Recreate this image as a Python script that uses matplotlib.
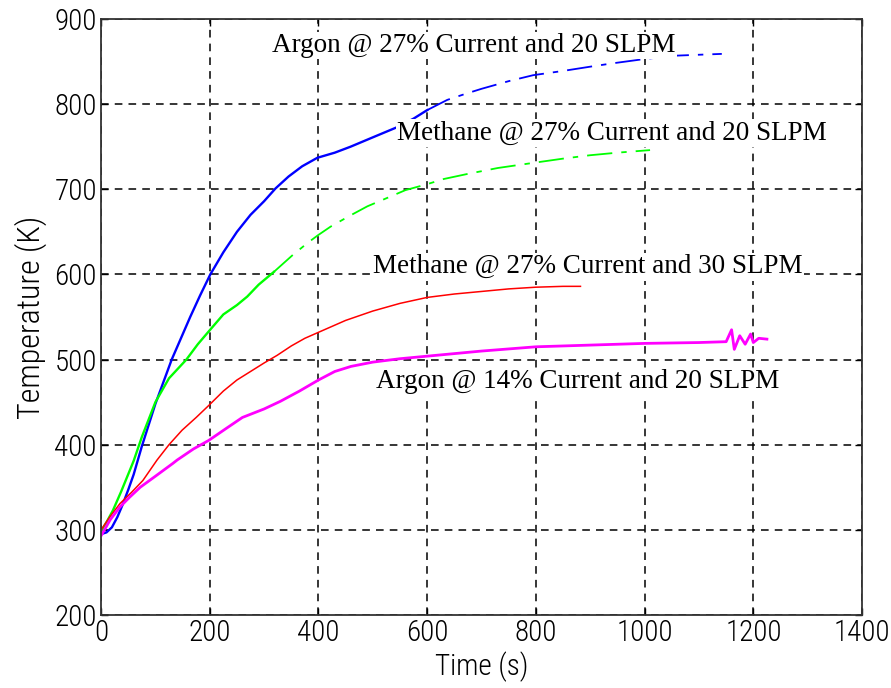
import matplotlib
matplotlib.use("Agg")
import matplotlib.pyplot as plt
from matplotlib import font_manager

OUT_FILE = "out.png"

# readings (time in s, temperature in K)
argon27_t = [0, 10, 20, 30, 40, 50, 60, 75, 90, 100, 115, 130, 147, 164, 182, 201, 225, 250,
             275, 300, 321, 345, 370, 398, 430, 459, 500, 545, 575, 600]
argon27_T = [295, 297, 303, 315, 330, 347, 365, 398, 428, 448, 474, 500, 525, 550, 575, 600, 626, 650,
             670, 686, 701, 715, 727, 737, 743, 750, 761, 773, 783, 793]
argon27_tail_t = [600, 637, 670, 700, 750, 795, 850, 900, 942, 1000, 1060, 1100, 1142]
argon27_tail_T = [793, 805, 812, 818, 827, 834, 839, 844, 848, 853, 857, 858, 859]

methane20_t = [0, 11, 22, 37, 53, 60, 75, 100, 125, 157, 178, 198, 225, 250, 269, 290, 318]
methane20_T = [298, 310, 323, 345, 370, 381, 409, 450, 478, 500, 518, 533, 553, 564, 574, 588, 603]
methane20_tail_t = [318, 353, 380, 399, 422, 455, 490, 527, 560, 600, 630, 674, 730, 795, 850, 900, 950, 1010]
methane20_tail_T = [603, 623, 637, 646, 656, 668, 680, 690, 699, 706, 712, 718, 725, 731, 736, 740, 743, 746]

methane30_t = [0, 17, 35, 56, 77, 103, 125, 149, 175, 198, 225, 250, 275, 300, 324, 350, 375, 400,
               450, 500, 550, 600, 650, 700, 750, 800, 850, 882]
methane30_T = [300, 316, 331, 344, 358, 382, 400, 417, 432, 446, 463, 476, 486, 496, 505, 516, 525, 532,
               546, 557, 566, 573, 577, 580, 583, 585, 586, 586]

argon14_t = [0, 17, 35, 52, 72, 100, 132, 140, 170, 198, 230, 260, 300, 330, 365, 400, 430, 460, 500,
             550, 600, 700, 800, 900, 1000, 1100, 1150, 1160, 1165, 1175, 1185, 1195, 1200, 1210, 1225]
argon14_T = [293, 312, 327, 338, 350, 363, 378, 382, 395, 405, 419, 432, 442, 451, 463, 476, 486, 492, 497,
             501, 504, 510, 515, 517, 519, 520, 521, 535, 512, 528, 518, 530, 520, 525, 524]

labels = [
    "Argon @ 27% Current and 20 SLPM",
    "Methane @ 27% Current and 20 SLPM",
    "Methane @ 27% Current and 30 SLPM",
    "Argon @ 14% Current and 20 SLPM",
]
label_t = [314, 545, 500, 505]
label_T = [869, 766, 609, 474]

x_ticks = [0, 200, 400, 600, 800, 1000, 1200, 1400]
y_ticks = [200, 300, 400, 500, 600, 700, 800, 900]


def narrow_font(weights):
    # the reference uses a thin, narrow sans face for ticks and axis labels
    for want in ["Liberation Sans Narrow", "Roboto Condensed", "Open Sans Condensed"]:
        for w in weights:
            for f in font_manager.fontManager.ttflist:
                if f.name == want and f.style == "normal" and f.weight == w:
                    return f.fname
    return None


fname = narrow_font([300, 400, "normal", "regular"])
if fname:
    tick_fp = font_manager.FontProperties(fname=fname, size=21)
    xlab_fp = font_manager.FontProperties(fname=fname, size=21)
    ylab_fp = font_manager.FontProperties(fname=fname, size=23)
else:
    tick_fp = font_manager.FontProperties(family="Liberation Sans", size=17.5)
    xlab_fp = font_manager.FontProperties(family="Liberation Sans", size=18.5)
    ylab_fp = font_manager.FontProperties(family="Liberation Sans", size=19)

fig = plt.figure(figsize=(8.91, 6.88), dpi=100)
ax = fig.add_axes([0.1134, 0.1061, 0.8541, 0.8663])

dashdot = (0, (14, 5, 3, 5))
ax.plot(argon27_t, argon27_T, color="#0000ff", lw=1.7)
ax.plot(argon27_tail_t, argon27_tail_T, color="#0000ff", lw=1.3, ls=dashdot)
ax.plot(methane20_t, methane20_T, color="#00ff00", lw=1.7)
ax.plot(methane20_tail_t, methane20_tail_T, color="#00ff00", lw=1.3, ls=dashdot)
ax.plot(methane30_t, methane30_T, color="#ff0000", lw=1.1)
ax.plot(argon14_t, argon14_T, color="#ff00ff", lw=2.0)

for txt, t, T in zip(labels, label_t, label_T):
    ax.text(t, T, txt, family="Liberation Serif", fontsize=19.5, ha="left", va="center",
            bbox=dict(facecolor="white", edgecolor="none", pad=1))

ax.set_xlim(0, 1400)
ax.set_ylim(200, 900)
ax.set_xticks(x_ticks)
ax.set_yticks(y_ticks)
ax.grid(True, color="black", ls=(0, (5, 4)), lw=1.1)
ax.tick_params(direction="in", top=True, right=True, length=5, width=1, pad=3)
for lab in ax.get_xticklabels() + ax.get_yticklabels():
    lab.set_fontproperties(tick_fp)
for sp in ax.spines.values():
    sp.set_linewidth(1.3)
    sp.set_color("#333333")

ax.set_xlabel("Time (s)", fontproperties=xlab_fp, labelpad=3)
ax.set_ylabel("Temperature (K)", fontproperties=ylab_fp, labelpad=5)

fig.savefig(OUT_FILE, dpi=100)
